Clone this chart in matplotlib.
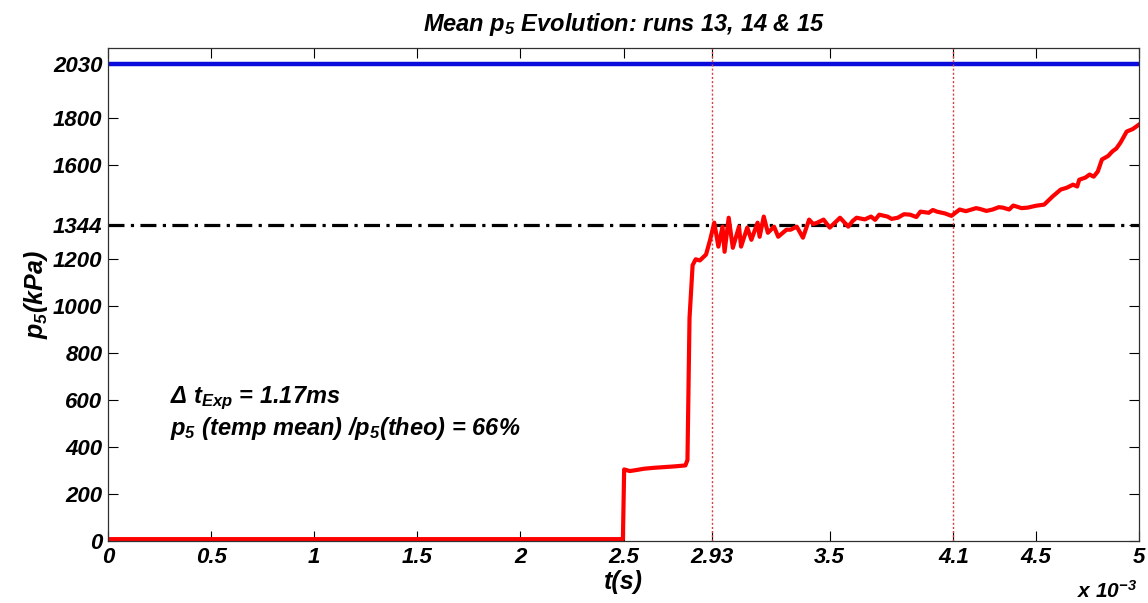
import numpy as np
import matplotlib
matplotlib.use('Agg')
import matplotlib.pyplot as plt

plt.rcParams['font.family'] = ['Liberation Sans', 'DejaVu Sans']
plt.rcParams['font.weight'] = 'bold'
plt.rcParams['font.style'] = 'italic'
plt.rcParams['axes.titleweight'] = 'bold'
plt.rcParams['axes.labelweight'] = 'bold'
plt.rcParams['mathtext.fontset'] = 'custom'
plt.rcParams['mathtext.rm'] = 'Liberation Sans:italic:bold'
plt.rcParams['mathtext.it'] = 'Liberation Sans:italic:bold'
plt.rcParams['mathtext.bf'] = 'Liberation Sans:italic:bold'

# mean p5 trace, t in ms, p in kPa
t_ms = [0.0, 0.5, 1.0, 1.5, 2.0, 2.49, 2.497, 2.503, 2.53, 2.56, 2.6, 2.65, 2.7, 2.75, 2.80,
        2.81, 2.82, 2.835, 2.85, 2.87, 2.90, 2.92, 2.94, 2.96, 2.98, 2.99, 3.01, 3.03,
        3.06, 3.07, 3.10, 3.12, 3.15, 3.16, 3.18, 3.20, 3.23, 3.25, 3.29, 3.31, 3.34,
        3.37, 3.40, 3.42, 3.44, 3.47, 3.50, 3.53, 3.55, 3.59, 3.61, 3.63, 3.67, 3.70,
        3.72, 3.74, 3.78, 3.80, 3.83, 3.86, 3.89, 3.92, 3.94, 3.98, 4.00, 4.02, 4.06,
        4.09, 4.13, 4.16, 4.18, 4.21, 4.23, 4.26, 4.29, 4.32, 4.34, 4.37, 4.39, 4.43,
        4.46, 4.50, 4.54, 4.58, 4.62, 4.65, 4.68, 4.70, 4.71, 4.74, 4.76, 4.78, 4.80,
        4.82, 4.85, 4.87, 4.89, 4.91, 4.94, 4.97, 5.0]
p_kpa = [8, 8, 8, 8, 8, 8, 8, 305, 298, 302, 308, 312, 315, 318, 322,
         345, 950, 1175, 1200, 1195, 1220, 1283, 1356, 1254, 1339, 1232, 1377, 1249,
         1339, 1254, 1335, 1283, 1356, 1296, 1382, 1313, 1339, 1296, 1326, 1326, 1339,
         1292, 1369, 1350, 1356, 1369, 1335, 1360, 1377, 1339, 1362, 1377, 1370, 1382,
         1368, 1390, 1382, 1372, 1377, 1392, 1390, 1380, 1403, 1398, 1410, 1403, 1395,
         1385, 1412, 1405, 1410, 1418, 1414, 1406, 1412, 1422, 1420, 1412, 1429, 1418,
         1420, 1428, 1433, 1467, 1497, 1505, 1518, 1510, 1539, 1548, 1561, 1552, 1574,
         1625, 1640, 1659, 1672, 1697, 1744, 1755, 1774]

p_theo = 2030
p_mean = 1344
t_marks = [2.93, 4.1]

x_ticks = [0, 0.5, 1, 1.5, 2, 2.5, 2.93, 3.5, 4.1, 4.5, 5]
x_labels = ['0', '0.5', '1', '1.5', '2', '2.5', '2.93', '3.5', '4.1', '4.5', '5']
y_ticks = [0, 200, 400, 600, 800, 1000, 1200, 1344, 1600, 1800, 2030]

fig = plt.figure(figsize=(11.48, 6.03), dpi=100)
ax = fig.add_axes([0.0941, 0.1028, 0.8981, 0.8176])

ax.axhline(p_theo, color='#0a0adc', lw=3.2)
ax.axhline(p_mean, color='black', lw=2.3, linestyle=(0, (5, 2, 1, 2)))
for tm in t_marks:
    ax.axvline(tm, color='#d84040', lw=1.0, linestyle=(0, (1.5, 1.5)))
ax.plot(t_ms, p_kpa, color='#ff0000', lw=3.0)

ax.set_xlim(0, 5)
ax.set_ylim(0, 2100)
ax.set_xticks(x_ticks)
ax.set_xticklabels(x_labels)
ax.set_yticks(y_ticks)
ax.tick_params(direction='in', length=7, width=0.8, labelsize=16, top=True, right=True, pad=4)
for lab in ax.get_xticklabels() + ax.get_yticklabels():
    lab.set_fontweight('bold')
    lab.set_fontstyle('italic')
for s in ax.spines.values():
    s.set_color('#303030')
    s.set_linewidth(0.9)

ax.set_title('Mean $p_5$ Evolution: runs 13, 14 & 15', fontsize=17, pad=12)
ax.set_xlabel('t(s)', fontsize=18, labelpad=2)
ax.set_ylabel('$p_5$(kPa)', fontsize=18, labelpad=2)

fig.text(0.938, 0.008, 'x 10$^{-3}$', fontsize=15)
ax.text(0.06, 0.28, 'Δ t$_{Exp}$ = 1.17ms', transform=ax.transAxes, fontsize=17)
ax.text(0.06, 0.215, '$p_5$ (temp mean) /$p_5$(theo) = 66%', transform=ax.transAxes, fontsize=17)

fig.savefig('out.png', dpi=100)
